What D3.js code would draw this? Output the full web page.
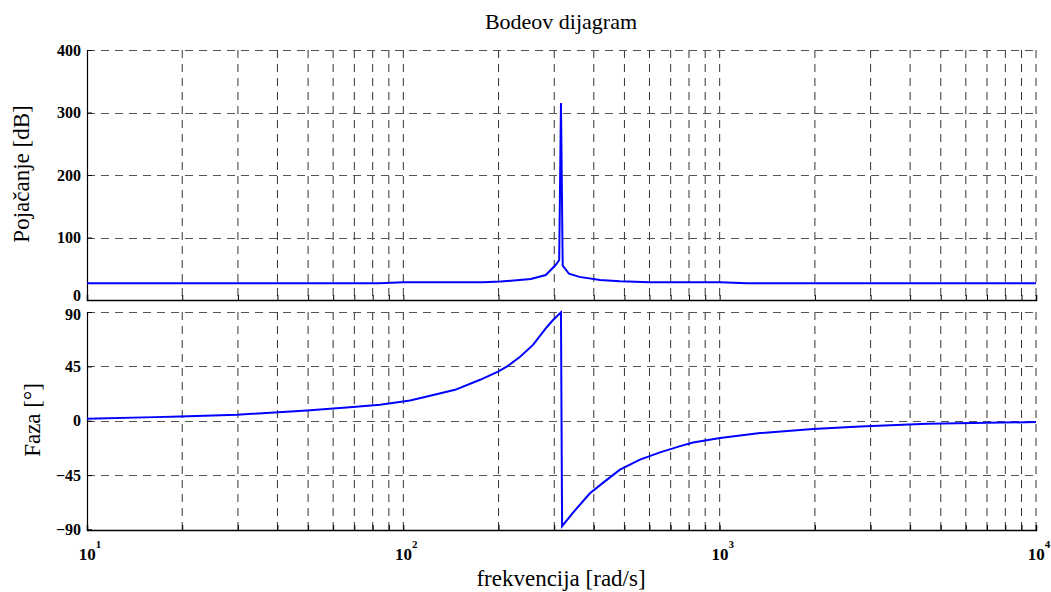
<!DOCTYPE html>
<html><head><meta charset="utf-8">
<script src="https://cdn.jsdelivr.net/npm/d3@7"></script>
<style>
body{margin:0;background:#fff;}
text{font-family:"Liberation Serif","DejaVu Serif",serif;}
</style></head>
<body><svg id="c" width="1051" height="592"></svg>
<script>
// ---- data ----
const magFreq = [10, 84, 100, 178, 203, 253, 282, 303, 311, 315, 319, 334, 360, 419, 484, 602, 1003, 1221, 10000];
const magDb   = [26.7, 26.7, 28.3, 28.3, 29.5, 33.5, 40, 56, 64, 315, 55, 42, 37, 32, 29.9, 28.3, 28.3, 26.7, 26.7];
const phaseFreq = [10, 16.4, 19.7, 29.8, 49.6, 69.3, 84.4, 105, 117, 145.7, 174.8, 199.3, 212.8, 234, 257, 284, 297.4, 315, 317.6, 344, 389, 428.5, 484, 560, 648, 750, 824, 1003, 1343, 1973, 2780, 4527, 10000];
const phaseDeg  = [1.7, 3.0, 3.6, 5, 8.5, 11.3, 13.2, 16.8, 19.6, 25.6, 33.9, 40.7, 44.9, 53, 62.8, 77.4, 83.4, 89.8, -87.3, -76, -60, -51.2, -40.5, -32.2, -26.2, -21, -18, -14.3, -10.2, -6.9, -4.7, -2.5, -1.1];
const magTicks = [0, 100, 200, 300, 400];
const phaseTicks = [-90, -45, 0, 45, 90];
const decades = [10, 100, 1000, 10000];
const decadeExp = ["1", "2", "3", "4"];
const title = "Bodeov dijagram";
const xLabel = "frekvencija [rad/s]";
const magLabel = "Pojačanje [dB]";
const phaseLabel = "Faza [°]";

const svg = d3.select("#c");
const x = d3.scaleLog().domain([10, 10000]).range([87, 1036]);
const yM = d3.scaleLinear().domain([0, 400]).range([300, 50]);
const yP = d3.scaleLinear().domain([-90, 90]).range([529.5, 312]);

const allTicks = [];
for (let d = 0; d < 3; d++) for (let k = 1; k <= 9; k++) allTicks.push(decades[d] * k);
allTicks.push(10000);

function panel(y, ticks, yTop, yBot, labelShift) {
  const g = svg.append("g");
  g.selectAll("line.vg").data(allTicks.slice(1)).join("line")
    .attr("x1", d => x(d)).attr("x2", d => x(d))
    .attr("y1", yTop).attr("y2", yBot)
    .attr("stroke", "#333").attr("stroke-width", 1).attr("stroke-dasharray", "8,6");
  g.selectAll("line.hg").data(ticks).join("line")
    .attr("x1", 87).attr("x2", 1036)
    .attr("y1", d => Math.round(y(d)) + 0.5).attr("y2", d => Math.round(y(d)) + 0.5)
    .attr("stroke", "#555").attr("stroke-width", 1).attr("stroke-dasharray", "8,6");
  const bx = d3.axisBottom(x).tickValues(allTicks).tickSize(-5).tickFormat("");
  const ga = g.append("g").attr("transform", `translate(0,${yBot})`).call(bx);
  ga.select(".domain").attr("stroke", "#000").attr("stroke-width", 1.5);
  ga.selectAll(".tick line").attr("stroke", "#000");
  const ly = d3.axisLeft(y).tickValues(ticks).tickSize(-5).tickPadding(6).tickFormat(d3.format("d"));
  const gl = g.append("g").attr("transform", "translate(87,0)").call(ly);
  gl.select(".domain").attr("stroke", "#000").attr("stroke-width", 1.2);
  gl.selectAll(".tick text").attr("font-family", "Liberation Serif").attr("font-weight", "bold")
    .attr("font-size", 16).attr("fill", "#000")
    .attr("dy", d => labelShift(d));
  return g;
}
panel(yM, magTicks, 50, 300, d => d === 0 ? "0.05em" : "0.32em");
panel(yP, phaseTicks, 312, 530, d => d === 90 ? "0.45em" : "0.32em");

const magData = magFreq.map((f, i) => [f, magDb[i]]);
const phData = phaseFreq.map((f, i) => [f, phaseDeg[i]]);
svg.append("path").datum(magData)
  .attr("d", d3.line().x(d => x(d[0])).y(d => yM(d[1])))
  .attr("fill", "none").attr("stroke", "#0000ff").attr("stroke-width", 2);
svg.append("path").datum(phData)
  .attr("d", d3.line().x(d => x(d[0])).y(d => yP(d[1])))
  .attr("fill", "none").attr("stroke", "#0000ff").attr("stroke-width", 2);

const xl = svg.append("g");
decades.forEach((d, i) => {
  const t = xl.append("text").attr("x", x(d) + 3).attr("y", 560).attr("text-anchor", "middle")
    .attr("font-weight", "bold").attr("font-size", 17);
  t.append("tspan").text("10");
  t.append("tspan").attr("dy", -12).attr("font-size", 11).text(decadeExp[i]);
});

svg.append("text").attr("x", 561).attr("y", 29).attr("text-anchor", "middle")
  .attr("font-size", 22).text(title);
svg.append("text").attr("x", 561).attr("y", 586).attr("text-anchor", "middle")
  .attr("font-size", 23).text(xLabel);
svg.append("text").attr("transform", "translate(29,174) rotate(-90)").attr("text-anchor", "middle")
  .attr("font-size", 23).text(magLabel);
svg.append("text").attr("transform", "translate(40,420) rotate(-90)").attr("text-anchor", "middle")
  .attr("font-size", 23).text(phaseLabel);
</script></body></html>
